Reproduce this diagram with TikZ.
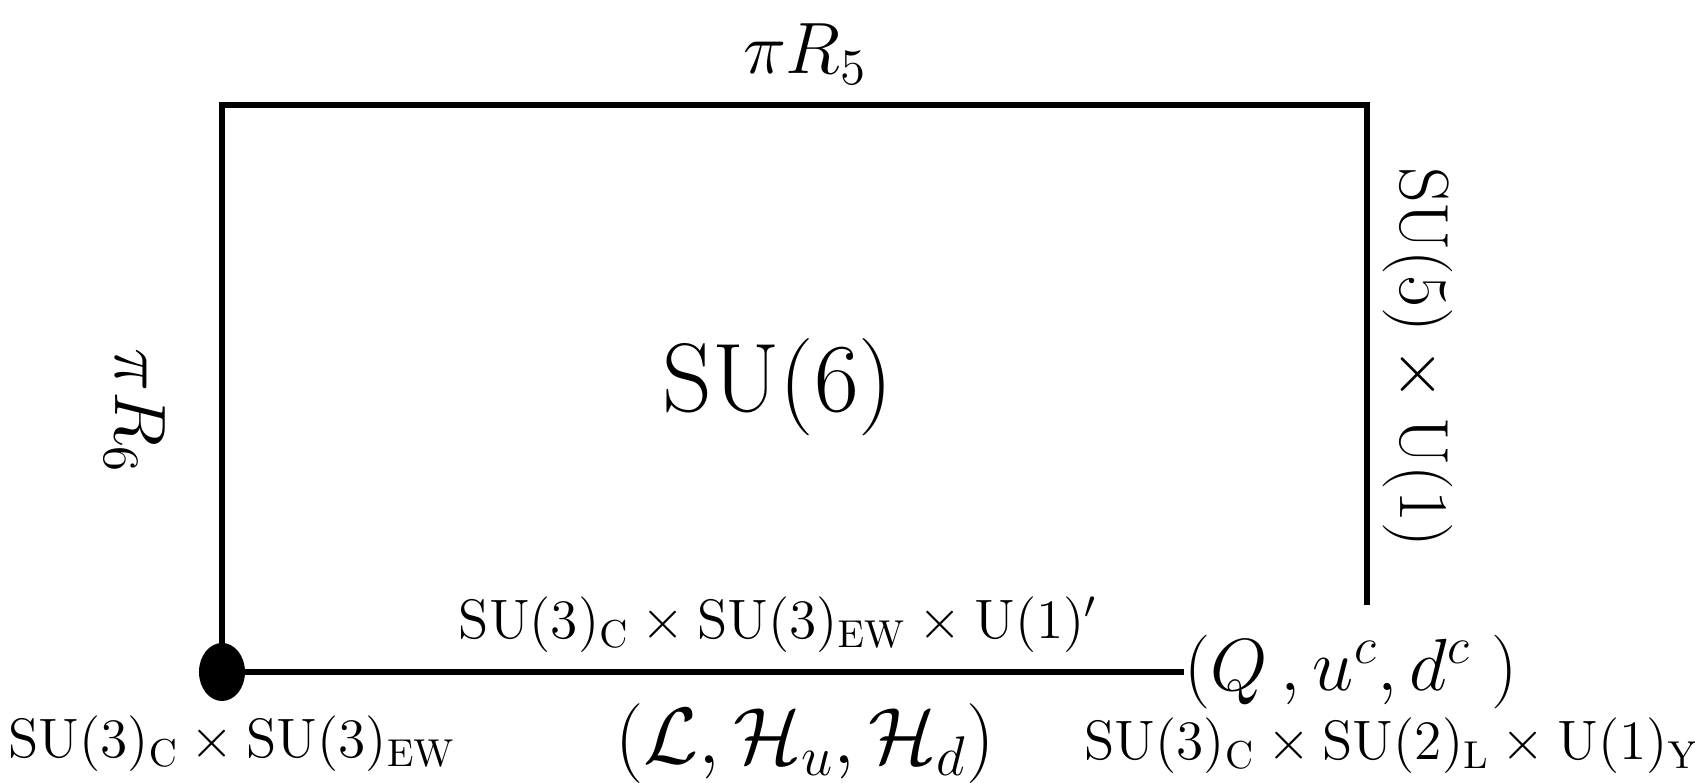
\RequirePackage{fix-cm}
\documentclass[tikz,border=0pt]{standalone}
\usetikzlibrary{shapes.geometric}
\begin{document}
\begin{tikzpicture}[x=0.01cm,y=-0.01cm,lab/.style={font=\fontsize{15.8}{18}\selectfont,inner sep=0pt},wide/.style={font=\fontsize{20.7}{23}\selectfont,inner sep=0pt},wall/.style={line width=1.6pt}]
\useasboundingbox (0,0) rectangle (1695,783);
\coordinate (tl) at (222,105);\coordinate (tr) at (1367,105);\coordinate (rend) at (1367,605);
\node[ellipse,fill=black,minimum width=0.46cm,minimum height=0.58cm,inner sep=0pt](fix) at (222,672){};
\node[wide,font=\fontsize{21}{24}\selectfont,anchor=west](quarks) at (1184,672){$(Q\,,u^c,d^c\;)$};
\draw[wall](quarks.west)--(fix.center)--(tl)--(tr)--(rend);
\node[wide](r5) at (805,54){$\pi R_5$};
\node[wide,rotate=-90](r6) at (135,411){$\pi R_6$};
\node[wide,font=\fontsize{19.8}{23}\selectfont,rotate=-90](g5) at (1418,357){$\mathrm{SU}(5)\times\mathrm{U}(1)$};
\node[font=\fontsize{27.7}{32}\selectfont](bulk) at (778,387){$\mathrm{SU}(6)$};
\node[lab](brane) at (778,625){$\mathrm{SU}(3)_\mathrm{C}\times\mathrm{SU}(3)_\mathrm{EW}\times\mathrm{U}(1)'$};
\node[wide,font=\fontsize{22.7}{26}\selectfont](leptons) at (805,744){$(\mathcal{L},\mathcal{H}_u,\mathcal{H}_d)$};
\node[lab](fixgrp) at (232,744){$\mathrm{SU}(3)_\mathrm{C}\times\mathrm{SU}(3)_\mathrm{EW}$};
\node[lab](smgrp) at (1392,746){$\mathrm{SU}(3)_\mathrm{C}\times\mathrm{SU}(2)_\mathrm{L}\times\mathrm{U}(1)_\mathrm{Y}$};
\end{tikzpicture}
\end{document}
